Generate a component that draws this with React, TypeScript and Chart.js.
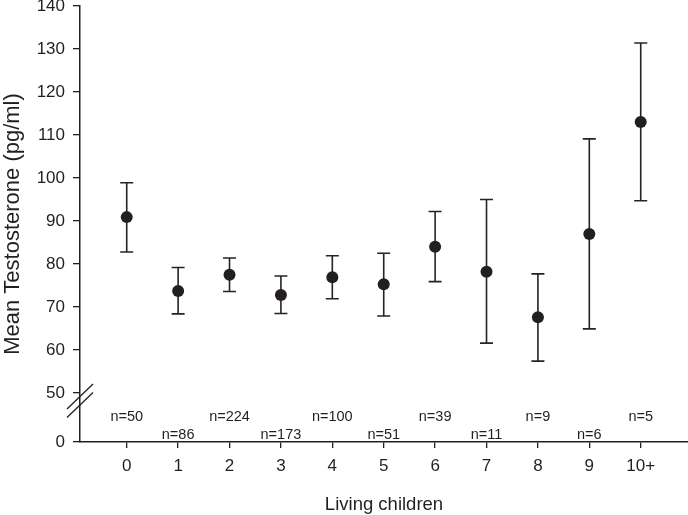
import React, { useEffect, useRef } from 'react';
import { Chart, registerables, Plugin } from 'chart.js';

Chart.register(...registerables);

const categories = ['0', '1', '2', '3', '4', '5', '6', '7', '8', '9', '10+'];
const means = [90.9, 73.7, 77.5, 72.8, 76.9, 75.3, 84.0, 78.2, 67.6, 87.0, 113.0];
const upper = [98.9, 79.2, 81.4, 77.2, 81.9, 82.5, 92.2, 95.0, 77.7, 109.1, 131.4];
const lower = [82.8, 68.4, 73.6, 68.5, 71.9, 67.9, 75.9, 61.6, 57.4, 64.9, 94.7];
const sampleSizes = ['n=50', 'n=86', 'n=224', 'n=173', 'n=100', 'n=51', 'n=39', 'n=11', 'n=9', 'n=6', 'n=5'];
const yTicks = [50, 60, 70, 80, 90, 100, 110, 120, 130, 140];
// the axis is broken below 50; this is where the "0" label sits
const yBreakMin = 38.6;

const FONT = "'Liberation Sans', Arial, Helvetica, sans-serif";
const INK = '#231f20';

const extras: Plugin<'scatter'> = {
    id: 'extras',
    beforeDatasetsDraw(chart) {
        const { ctx, chartArea } = chart;
        const x = chart.scales.x;
        const y = chart.scales.y;
        ctx.save();
        ctx.strokeStyle = '#262324';
        ctx.lineWidth = 1.6;

        // error bars
        means.forEach((_, i) => {
            const px = x.getPixelForValue(i);
            const top = y.getPixelForValue(upper[i]);
            const bot = y.getPixelForValue(lower[i]);
            ctx.beginPath();
            ctx.moveTo(px, top);
            ctx.lineTo(px, bot);
            ctx.moveTo(px - 6.5, top);
            ctx.lineTo(px + 6.5, top);
            ctx.moveTo(px - 6.5, bot);
            ctx.lineTo(px + 6.5, bot);
            ctx.stroke();
        });

        // sample sizes, staggered
        ctx.fillStyle = INK;
        ctx.font = `14.5px ${FONT}`;
        ctx.textAlign = 'center';
        ctx.textBaseline = 'middle';
        sampleSizes.forEach((s, i) => {
            ctx.fillText(s, x.getPixelForValue(i), chartArea.bottom - (i % 2 === 0 ? 25.5 : 7.5));
        });

        // axis break marks
        const ax = chartArea.left;
        const y50 = y.getPixelForValue(50);
        ctx.strokeStyle = INK;
        ctx.lineWidth = 1.3;
        [3.5, 12].forEach(off => {
            ctx.beginPath();
            ctx.moveTo(ax - 13, y50 + off + 12.5);
            ctx.lineTo(ax + 13, y50 + off - 12.5);
            ctx.stroke();
        });
        ctx.restore();
    }
};

function ErrorBarChart() {
    const canvasRef = useRef<HTMLCanvasElement>(null);
    const chartRef = useRef<Chart | null>(null);

    useEffect(() => {
        if (!canvasRef.current) return;
        if (chartRef.current) {
            chartRef.current.destroy();
        }

        chartRef.current = new Chart(canvasRef.current, {
            type: 'scatter',
            data: {
                datasets: [
                    {
                        label: 'Mean Testosterone',
                        data: means.map((m, i) => ({ x: i, y: m })),
                        pointRadius: 6,
                        pointHoverRadius: 6,
                        pointBackgroundColor: INK,
                        pointBorderWidth: 0
                    }
                ]
            },
            options: {
                responsive: true,
                maintainAspectRatio: false,
                animation: false,
                layout: { autoPadding: false, padding: { top: 6, right: 0, bottom: 0, left: 0 } },
                plugins: {
                    legend: { display: false },
                    tooltip: { enabled: false }
                },
                scales: {
                    x: {
                        type: 'linear',
                        min: -0.909,
                        max: 10.92,
                        afterBuildTicks: scale => {
                            scale.ticks = categories.map((_, i) => ({ value: i }));
                        },
                        afterFit: scale => {
                            scale.height = 73;
                            scale.paddingLeft = 0;
                            scale.paddingRight = 0;
                        },
                        ticks: {
                            callback: v => categories[Number(v)],
                            color: INK,
                            font: { family: FONT, size: 17 },
                            padding: 8,
                            maxRotation: 0,
                            autoSkip: false
                        },
                        grid: {
                            drawOnChartArea: false,
                            drawTicks: true,
                            tickLength: 6,
                            color: INK,
                            lineWidth: 1.3
                        },
                        border: { display: true, color: INK, width: 1.5 },
                        title: {
                            display: true,
                            text: 'Living children',
                            color: INK,
                            font: { family: FONT, size: 18.5 },
                            padding: { top: 0, bottom: -1 }
                        }
                    },
                    y: {
                        type: 'linear',
                        min: yBreakMin,
                        max: 140,
                        afterBuildTicks: scale => {
                            scale.ticks = [{ value: yBreakMin }, ...yTicks.map(v => ({ value: v }))];
                        },
                        afterFit: scale => {
                            scale.width = 80;
                            scale.paddingTop = 0;
                            scale.paddingBottom = 0;
                        },
                        ticks: {
                            callback: v => (Number(v) < 50 ? '0' : String(v)),
                            color: INK,
                            font: { family: FONT, size: 17 },
                            padding: 8
                        },
                        grid: {
                            drawOnChartArea: false,
                            drawTicks: true,
                            tickLength: 7,
                            color: INK,
                            lineWidth: 1.3
                        },
                        border: { display: true, color: INK, width: 1.5 },
                        title: {
                            display: true,
                            text: 'Mean Testosterone (pg/ml)',
                            color: INK,
                            font: { family: FONT, size: 22 },
                            padding: { top: 0, bottom: 0 }
                        }
                    }
                }
            },
            plugins: [extras]
        });

        return () => {
            if (chartRef.current) {
                chartRef.current.destroy();
                chartRef.current = null;
            }
        };
    }, []);

    return <canvas ref={canvasRef} />;
}

export default function App() {
    return (
        <div style={{ position: 'absolute', left: 0, top: 0, width: 688, height: 515, background: '#fff' }}>
            <ErrorBarChart />
        </div>
    );
}
